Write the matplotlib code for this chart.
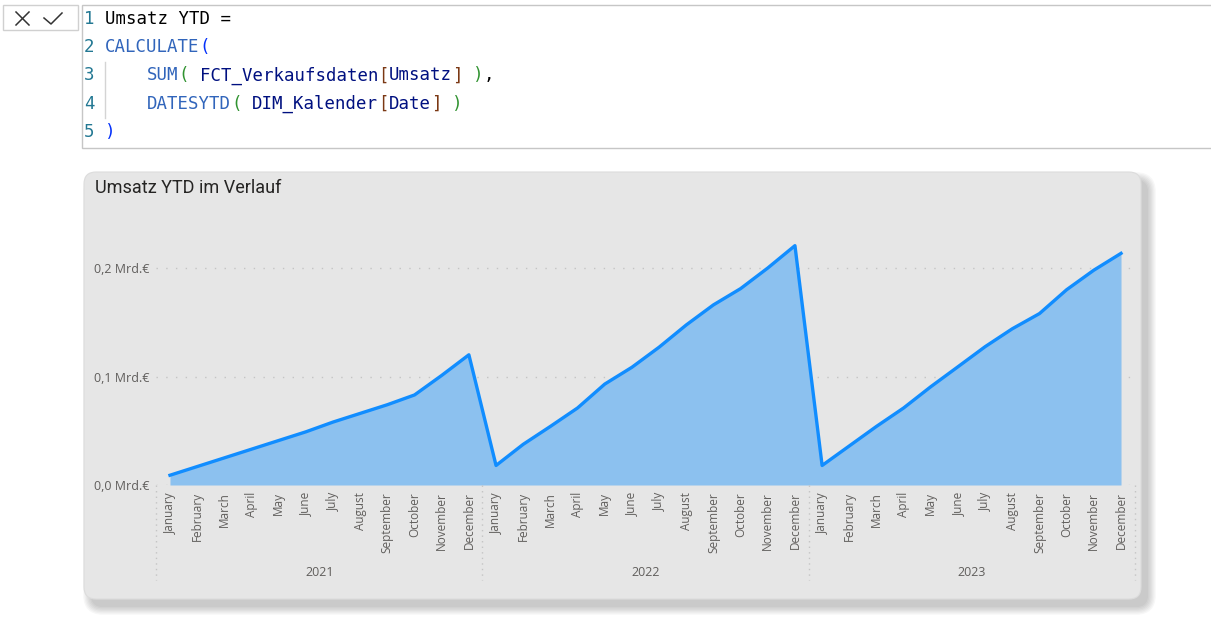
import matplotlib
matplotlib.use("Agg")
import matplotlib.pyplot as plt
from matplotlib.patches import FancyBboxPatch, Rectangle
import matplotlib.transforms as mtransforms

# ---------------- data ----------------
months = ["January", "February", "March", "April", "May", "June", "July",
          "August", "September", "October", "November", "December"]
years = ["2021", "2022", "2023"]
ytd_2021 = [0.009, 0.017, 0.025, 0.033, 0.041, 0.049, 0.058, 0.066, 0.074, 0.083, 0.101, 0.120]
ytd_2022 = [0.018, 0.0375, 0.054, 0.071, 0.093, 0.1085, 0.127, 0.1475, 0.166, 0.181, 0.200, 0.2206]
ytd_2023 = [0.018, 0.036, 0.054, 0.071, 0.0906, 0.109, 0.1275, 0.144, 0.158, 0.180, 0.198, 0.2135]
yticks = [0.0, 0.1, 0.2]
ytick_labels = ["0,0 Mrd.€", "0,1 Mrd.€", "0,2 Mrd.€"]
title = "Umsatz YTD im Verlauf"

# DAX formula, token by token
C_NUM, C_FUN, C_P1, C_P2, C_BR, C_ID, C_TXT = ("#237893", "#3165BB", "#0431FA",
                                               "#319331", "#7B3814", "#001080", "#000000")
formula = [
    [("Umsatz YTD =", C_TXT)],
    [("CALCULATE", C_FUN), ("(", C_P1)],
    [("    ", C_TXT), ("SUM", C_FUN), ("(", C_P2), (" ", C_TXT), ("FCT_Verkaufsdaten", C_ID),
     ("[", C_BR), ("Umsatz", C_ID), ("]", C_BR), (" ", C_TXT), (")", C_P2), (",", C_TXT)],
    [("    ", C_TXT), ("DATESYTD", C_FUN), ("(", C_P2), (" ", C_TXT), ("DIM_Kalender", C_ID),
     ("[", C_BR), ("Date", C_ID), ("]", C_BR), (" ", C_TXT), (")", C_P2)],
    [(")", C_P1)],
]

values = ytd_2021 + ytd_2022 + ytd_2023
labels = months * len(years)
x = list(range(len(values)))

# ---------------- figure ----------------
W, H = 1211, 620
fig = plt.figure(figsize=(W / 100, H / 100), dpi=100)
fig.patch.set_facecolor("white")
bg = fig.add_axes([0, 0, 1, 1])
bg.set_xlim(0, W)
bg.set_ylim(H, 0)
bg.axis("off")
bg.set_zorder(0)

# formula bar icons
bg.add_patch(Rectangle((3, 5), 75, 25, fc="white", ec="#D0D0D0", lw=1))
bg.plot([16, 29], [12, 25], color="#333333", lw=1.1)
bg.plot([16, 29], [25, 12], color="#333333", lw=1.1)
bg.plot([44, 51, 62], [18, 24, 13], color="#333333", lw=1.1)

# editor box
bg.add_patch(Rectangle((82, 5), 1140, 143, fc="white", ec="#C6C6C6", lw=1))
bg.plot([105, 105], [62, 118], color="#D4D4D4", lw=1)

fs_code = 12.56
cw = 0.6021 * fs_code * 100 / 72
for i, toks in enumerate(formula):
    yy = 19 + i * 28.25
    bg.text(84, yy, str(i + 1), color=C_NUM, family="DejaVu Sans Mono",
            fontsize=fs_code, va="center", ha="left")
    col = 2
    for t, c in toks:
        bg.text(84 + col * cw, yy, t, color=c, family="DejaVu Sans Mono",
                fontsize=fs_code, va="center", ha="left")
        col += len(t)

# card shadow and card
for k in range(7):
    p = k * 1.3
    bg.add_patch(FancyBboxPatch((84 + 7 - p, 172 + 8 - p), 1057 + 2 * p, 427 + 2 * p,
                                boxstyle="round,pad=0,rounding_size=%g" % (12 + p),
                                fc="black", ec="none", alpha=0.03))
bg.add_patch(FancyBboxPatch((84, 172), 1057, 427, boxstyle="round,pad=0,rounding_size=12",
                            fc="#E6E6E6", ec="#DCDCDC", lw=0.8))
bg.text(95, 188, title, fontsize=13, color="#252423", family="Roboto",
        weight="normal", va="center", ha="left")

# ---------------- chart ----------------
x0_px, x1_px = 156.4, 1134.6
y0_px, y1_px = 485, 241
ytop = (y0_px - y1_px) / 1085.0
ax = fig.add_axes([x0_px / W, 1 - y0_px / H, (x1_px - x0_px) / W, (y0_px - y1_px) / H])
ax.set_zorder(1)
ax.patch.set_alpha(0)
ax.set_xlim(-0.5, len(values) - 0.5)
ax.set_ylim(0, ytop)

ax.fill_between(x, values, 0, color="#8CC1EF", lw=0, zorder=2)
ax.plot(x, values, color="#118DFF", lw=2.4, solid_joinstyle="round", zorder=3)

for s in ax.spines.values():
    s.set_visible(False)
ax.set_yticks(yticks, ytick_labels)
ax.yaxis.grid(True, color="#C4C4C4", lw=1, linestyle=(0, (1, 6)))
ax.set_axisbelow(True)
ax.tick_params(axis="y", length=0, pad=5.3, labelsize=9, labelcolor="#605E5C")
ax.set_xticks(x, labels, rotation=90)
ax.tick_params(axis="x", length=0, pad=5, labelsize=8.5, labelcolor="#605E5C")
for lab in ax.get_xticklabels() + ax.get_yticklabels():
    lab.set_family("Open Sans")

trans = mtransforms.blended_transform_factory(ax.transData, ax.transAxes)
axes_h = y0_px - y1_px
for b in [-0.5 + 12 * k for k in range(len(years) + 1)]:
    ax.plot([b, b], [0, -(580 - y0_px) / axes_h], transform=trans, clip_on=False,
            color="#C4C4C4", lw=1, linestyle=(0, (1, 3)))
for k, yr in enumerate(years):
    ax.text(5.5 + 12 * k, -(572 - y0_px) / axes_h, yr, transform=trans, ha="center",
            va="center", fontsize=9, color="#605E5C", family="Open Sans")

fig.savefig("out.png", dpi=100)
